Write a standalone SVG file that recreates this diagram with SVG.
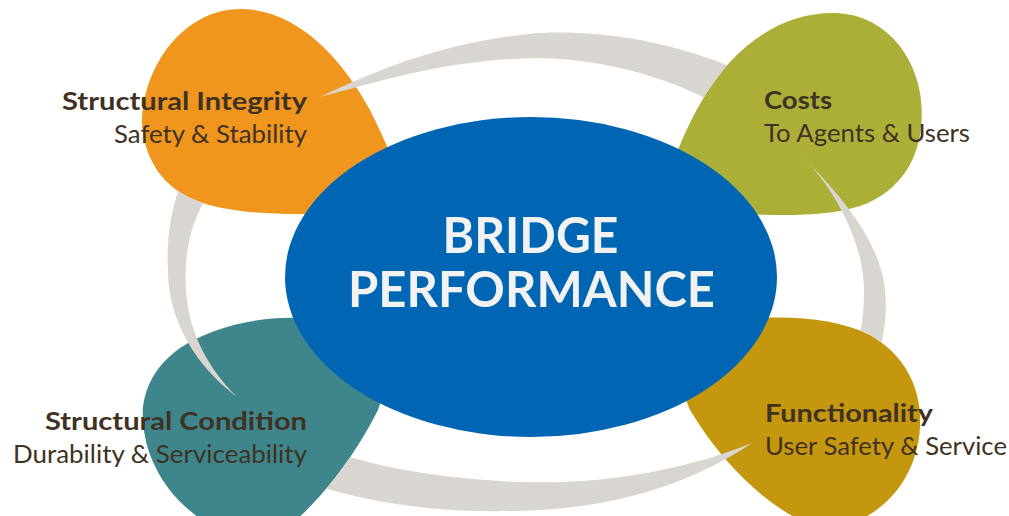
<svg xmlns="http://www.w3.org/2000/svg" xmlns:xlink="http://www.w3.org/1999/xlink" width="1009" height="516" viewBox="0 0 1009 516">
<style>
.ring{fill:#D9D6D2}
.title{font-family:Lato,"Open Sans","Liberation Sans",sans-serif;font-weight:700;font-size:25.5px;fill:#3F3223}
.sub{font-family:Lato,"Open Sans","Liberation Sans",sans-serif;font-weight:400;font-size:25.5px;fill:#3F3223}
.center{font-family:Lato,"Open Sans","Liberation Sans",sans-serif;font-weight:700;font-size:49px;fill:#F2F2F2}
</style>
<defs>
<path id="shape-integrity" d="M240,9 C295,9 340,55 370,110 C385,140 400,175 410,205 L340,213 C280,216 225,213 195,200 C165,188 145,162 142,125 C142,65 185,9 240,9 Z"/>
<path id="shape-costs" d="M833,13 C880,13 915,50 921,100 C926,150 905,190 860,206 C830,216 790,216 740,214 L665,185 C680,140 700,95 730,62 C760,30 795,13 833,13 Z"/>
<path id="shape-condition" d="M300,318 C255,316 210,328 180,348 C152,368 141,395 143,420 C145,460 168,500 210,525 L290,525 C315,505 350,465 378,410 L400,340 Z"/>
<path id="shape-function" d="M700,330 L760,318 C800,316 840,320 870,335 C900,352 918,380 920,415 C922,460 900,500 860,520 L800,520 C760,500 720,460 690,410 L670,360 Z"/>
<mask id="m-top" maskUnits="userSpaceOnUse" x="0" y="0" width="1009" height="516"><rect width="1009" height="516" fill="#fff"/><use xlink:href="#shape-costs" fill="#000"/></mask>
<mask id="m-right" maskUnits="userSpaceOnUse" x="0" y="0" width="1009" height="516"><rect width="1009" height="516" fill="#fff"/><use xlink:href="#shape-function" fill="#000"/></mask>
<mask id="m-bottom" maskUnits="userSpaceOnUse" x="0" y="0" width="1009" height="516"><rect width="1009" height="516" fill="#fff"/><use xlink:href="#shape-condition" fill="#000"/></mask>
<mask id="m-left" maskUnits="userSpaceOnUse" x="0" y="0" width="1009" height="516"><rect width="1009" height="516" fill="#fff"/><use xlink:href="#shape-integrity" fill="#000"/></mask>
</defs>
<rect width="1009" height="516" fill="#FFFFFF"/>

<g id="node-structural-integrity">
<use xlink:href="#shape-integrity" fill="#F0961F"/>
<text class="title" x="307" y="110" text-anchor="end" textLength="245" lengthAdjust="spacingAndGlyphs">Structural Integrity</text>
<text class="sub" x="307" y="143" text-anchor="end" textLength="193" lengthAdjust="spacingAndGlyphs">Safety &amp; Stability</text>
</g>

<g id="node-costs">
<use xlink:href="#shape-costs" fill="#ABAF37"/>
<text class="title" x="764" y="109" textLength="68" lengthAdjust="spacingAndGlyphs">Costs</text>
<text class="sub" x="764" y="142" textLength="206" lengthAdjust="spacingAndGlyphs">To Agents &amp; Users</text>
</g>

<g id="node-structural-condition">
<use xlink:href="#shape-condition" fill="#3E868B"/>
<text class="title" x="307" y="430" text-anchor="end" textLength="262" lengthAdjust="spacingAndGlyphs">Structural Condition</text>
<text class="sub" x="307" y="463" text-anchor="end" textLength="294" lengthAdjust="spacingAndGlyphs">Durability &amp; Serviceability</text>
</g>

<g id="node-functionality">
<use xlink:href="#shape-function" fill="#C5970E"/>
<text class="title" x="765" y="422" textLength="168" lengthAdjust="spacingAndGlyphs">Functionality</text>
<text class="sub" x="765" y="455" textLength="242" lengthAdjust="spacingAndGlyphs">User Safety &amp; Service</text>
</g>

<g id="connectors">
<path class="ring" mask="url(#m-top)" d="M320,97 C380,68 450,40 540,33 C620,29 705,50 770,85 L740,118 C690,85 620,60 540,58 C450,59 385,80 320,97 Z"/>
<path class="ring" mask="url(#m-right)" d="M803,157 C840,195 880,240 885,290 C888,320 882,340 878,360 L855,358 C862,330 866,300 863,275 C858,235 835,190 803,157 Z"/>
<path class="ring" mask="url(#m-bottom)" d="M752,443 C700,478 630,505 540,510 C450,515 370,505 300,480 L312,445 C360,462 420,478 520,482 C610,485 690,468 752,443 Z"/>
<path class="ring" mask="url(#m-left)" d="M237,397 C195,365 168,320 168,270 C166,235 172,205 183,178 L215,184 C200,205 188,230 186,265 C183,310 195,355 237,397 Z"/>
</g>

<g id="node-bridge-performance">
<ellipse cx="531" cy="277" rx="246" ry="160" fill="#0066B3"/>
<text class="center" x="530.5" y="253" text-anchor="middle" textLength="176" lengthAdjust="spacingAndGlyphs">BRIDGE</text>
<text class="center" x="531.5" y="307" text-anchor="middle" textLength="367" lengthAdjust="spacingAndGlyphs">PERFORMANCE</text>
</g>
</svg>
